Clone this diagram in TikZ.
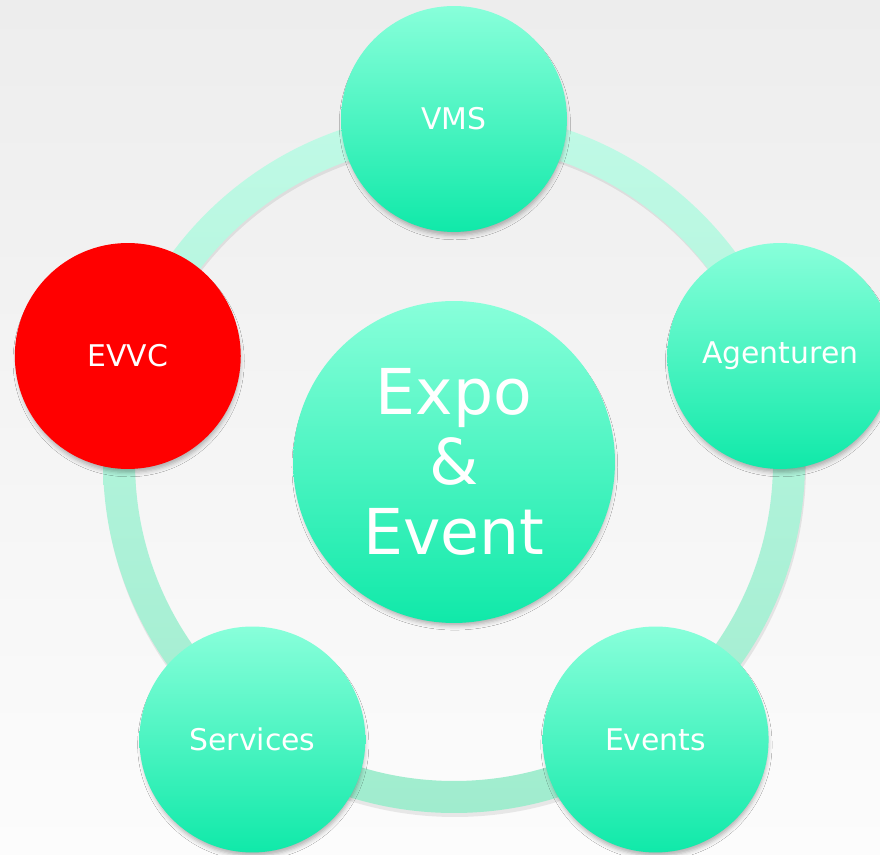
\documentclass[tikz,border=0pt]{standalone}
\usepackage{fontspec}
\setmainfont{DejaVu Sans}
\usetikzlibrary{shadows.blur,calc}
\definecolor{mintlight}{RGB}{136,255,218}
\definecolor{mintmid}{RGB}{110,247,206}
\definecolor{mintdeep}{RGB}{16,233,169}
\definecolor{ringtop}{RGB}{192,250,230}
\definecolor{ringbottom}{RGB}{160,236,206}
\definecolor{bgtop}{RGB}{237,237,237}
\definecolor{bgbottom}{RGB}{252,252,252}
\definecolor{evvcred}{RGB}{255,0,0}

\begin{document}
\begin{tikzpicture}[x=0.02cm,y=0.02cm,
 petal/.style={circle,minimum size=4.52cm,inner sep=0pt,top color=mintlight,middle color=mintmid,bottom color=mintdeep,text=white,font=\fontsize{17}{20}\selectfont,
  blur shadow={shadow xshift=0.5pt,shadow yshift=-3pt,shadow scale=0.985,shadow blur radius=2.5pt,shadow opacity=30}},
 hub/.style={petal,minimum size=6.44cm,align=center,font=\fontsize{36}{40}\selectfont}]
\clip (0,0) rectangle (880,855);
\shade[top color=bgtop,bottom color=bgbottom] (0,0) rectangle (880,855);
\coordinate (mid) at (454,393);
% ring with its shadow
\fill[black,opacity=0.08,even odd rule] ($(mid)+(1,-4)$) circle (351) circle (320);
\shade[top color=ringtop,bottom color=ringbottom,even odd rule] (mid) circle (351) circle (319);
\node[hub] (hub) at (mid) {Expo\\\&\\Event};
\foreach \ang/\name/\txt in {90/vms/VMS,18/agenturen/Agenturen,-54/events/Events,-126/services/Services}
  \path (mid) ++(\ang:343) node[petal] (\name) {\txt};
\path (mid) ++(162:343) node[petal,top color=evvcred,middle color=evvcred,bottom color=evvcred] (evvc) {EVVC};
\end{tikzpicture}
\end{document}
